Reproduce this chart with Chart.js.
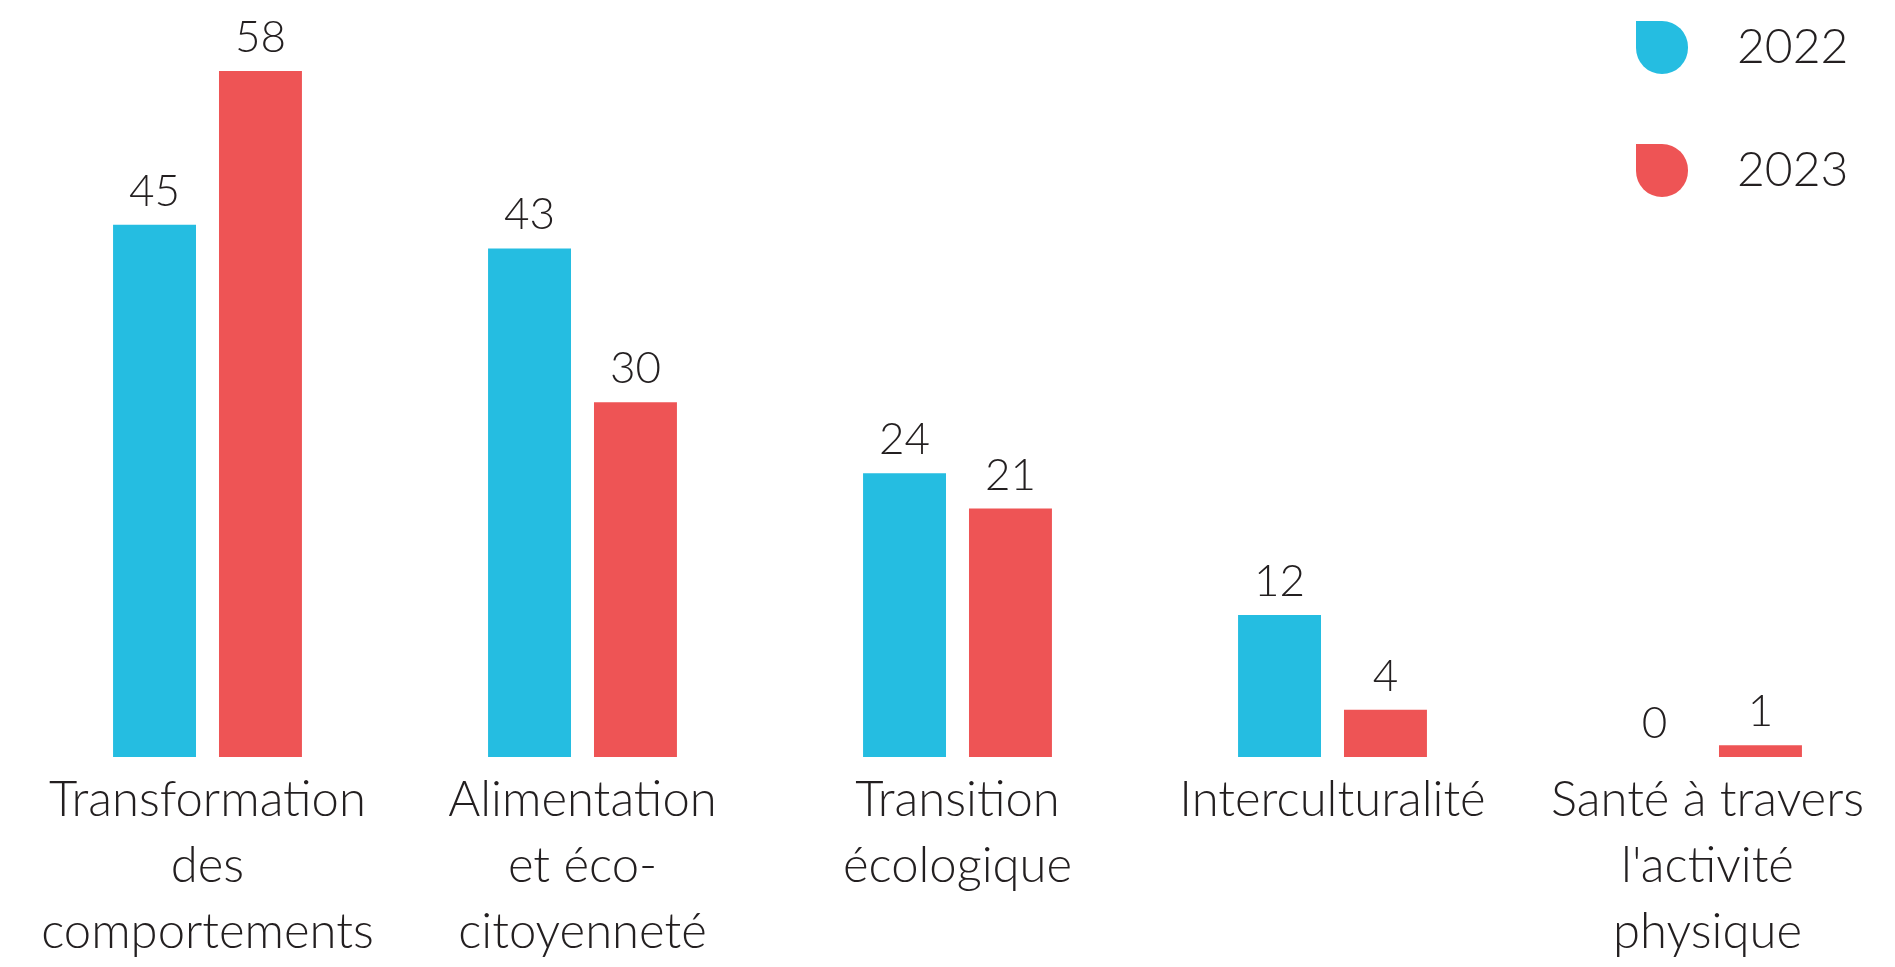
<!DOCTYPE html>
<html lang="fr">
<head>
    <meta charset="UTF-8">
    <title>Projets par thématique 2022 / 2023</title>
    <script src="https://cdn.jsdelivr.net/npm/chart.js@4.4.3/dist/chart.umd.min.js"></script>
    <style>
        html, body { margin: 0; padding: 0; background: #ffffff; }
        #wrap { width: 1895px; height: 967px; }
    </style>
</head>
<body>
    <div id="wrap"><canvas id="themesChart"></canvas></div>
    <script>
        // Données
        const categories = [
            ["Transformation", "des", "comportements"],
            ["Alimentation", "et éco-", "citoyenneté"],
            ["Transition", "écologique"],
            ["Interculturalité"],
            ["Santé à travers", "l'activité", "physique"]
        ];
        const annees = ["2022", "2023"];
        const valeurs2022 = [45, 43, 24, 12, 0];
        const valeurs2023 = [58, 30, 21, 4, 1];
        const couleurs = ["#25bde1", "#ee5455"];

        const texte = "#231f20";
        const police = "Lato, 'Open Sans', sans-serif";

        // Valeurs au-dessus des barres
        const etiquettes = {
            id: "etiquettes",
            afterDatasetsDraw(chart) {
                const ctx = chart.ctx;
                ctx.save();
                ctx.fillStyle = texte;
                ctx.font = "300 44px " + police;
                ctx.textAlign = "center";
                ctx.textBaseline = "alphabetic";
                chart.data.datasets.forEach((ds, i) => {
                    chart.getDatasetMeta(i).data.forEach((bar, j) => {
                        ctx.fillText(ds.data[j], bar.x, bar.y - 19);
                    });
                });
                ctx.restore();
            }
        };

        // Légende en haut à droite (gouttes)
        const legende = {
            id: "legende",
            afterDraw(chart) {
                const ctx = chart.ctx;
                ctx.save();
                chart.data.datasets.forEach((ds, i) => {
                    const x = 1636, y = 21 + i * 123, w = 52, h = 53, r = 26;
                    ctx.fillStyle = ds.backgroundColor;
                    ctx.beginPath();
                    ctx.moveTo(x, y);
                    ctx.lineTo(x + w - r, y);
                    ctx.arc(x + w - r, y + r, r, -Math.PI / 2, 0);
                    ctx.lineTo(x + w, y + h - r);
                    ctx.arc(x + w - r, y + h - r, r, 0, Math.PI / 2);
                    ctx.arc(x + r, y + h - r, r, Math.PI / 2, Math.PI);
                    ctx.closePath();
                    ctx.fill();
                    ctx.fillStyle = texte;
                    ctx.font = "300 48px " + police;
                    ctx.textAlign = "left";
                    ctx.textBaseline = "middle";
                    ctx.fillText(ds.label, 1737, y + h / 2);
                });
                ctx.restore();
            }
        };

        new Chart(document.getElementById("themesChart"), {
            type: "bar",
            data: {
                labels: categories,
                datasets: [{
                    label: annees[0],
                    data: valeurs2022,
                    backgroundColor: couleurs[0],
                    categoryPercentage: 0.565,
                    barPercentage: 0.783
                }, {
                    label: annees[1],
                    data: valeurs2023,
                    backgroundColor: couleurs[1],
                    categoryPercentage: 0.565,
                    barPercentage: 0.783
                }]
            },
            options: {
                responsive: true,
                maintainAspectRatio: false,
                animation: false,
                layout: {
                    padding: { left: 20, right: 0, top: 0, bottom: -8 }
                },
                plugins: {
                    legend: { display: false },
                    tooltip: { enabled: false }
                },
                scales: {
                    x: {
                        grid: { display: false, drawTicks: false },
                        border: { display: false },
                        ticks: {
                            color: texte,
                            padding: 10,
                            maxRotation: 0,
                            autoSkip: false,
                            font: { family: police, size: 49, weight: 300, lineHeight: "66px" }
                        }
                    },
                    y: {
                        display: false,
                        min: 0,
                        max: 64
                    }
                }
            },
            plugins: [etiquettes, legende]
        });
    </script>
</body>
</html>
